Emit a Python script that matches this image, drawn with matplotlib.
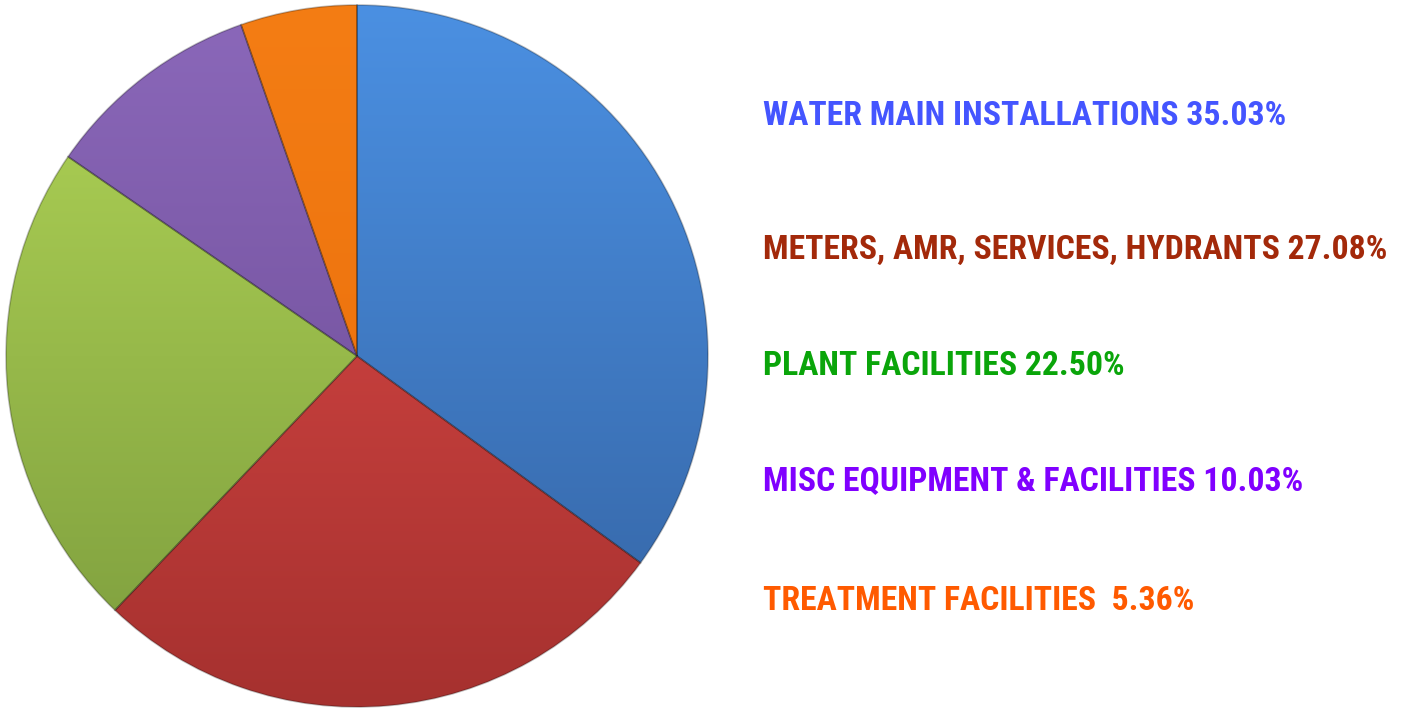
import matplotlib.pyplot as plt
import numpy as np
from matplotlib.colors import to_rgb
from matplotlib import font_manager

labels = ["WATER MAIN INSTALLATIONS", "METERS, AMR, SERVICES, HYDRANTS",
          "PLANT FACILITIES", "MISC EQUIPMENT & FACILITIES", "TREATMENT FACILITIES "]
shares = [35.03, 27.08, 22.50, 10.03, 5.36]

top_cols = ["#4b90e2", "#e24c49", "#b2d657", "#8b68ba", "#f47d14"]
bot_cols = ["#3463a2", "#a6312f", "#7c9c3d", "#684890", "#e86c0a"]
text_cols = ["#4455ff", "#a3290a", "#0aa50a", "#8000ff", "#ff5a00"]

W, H = 1417, 708
fig = plt.figure(figsize=(W / 100, H / 100), dpi=100)
ax = fig.add_axes([0, 0, 1, 1])

cx, cy, r = 357, 352, 351
wedges, _ = ax.pie(shares, startangle=90, counterclock=False, center=(cx, cy),
                   radius=r, frame=True,
                   wedgeprops=dict(linewidth=1.2, edgecolor=(0, 0, 0, 0.25)))
ax.set_xlim(0, W)
ax.set_ylim(0, H)
ax.set_aspect("equal")
ax.axis("off")

# vertical gradient inside each wedge
grad = np.linspace(1, 0, 256)[:, None, None]
for w, c1, c2 in zip(wedges, top_cols, bot_cols):
    img = grad * np.array(to_rgb(c1)) + (1 - grad) * np.array(to_rgb(c2))
    img = np.repeat(img, 2, axis=1)
    im = ax.imshow(img, extent=(cx - r, cx + r, cy - r, cy + r), origin="upper",
                   aspect="auto", zorder=1.5)
    im.set_clip_path(w)
    w.set_facecolor("none")
    w.set_zorder(2)

# condensed bold family for the labels
texts = [f"{lab} {val:.2f}%" for lab, val in zip(labels, shares)]
installed = {f.name for f in font_manager.fontManager.ttflist}
fam = next((f for f in ["Roboto Condensed", "Asap Condensed", "Barlow Semi Condensed"]
            if f in installed), "DejaVu Sans")

ys = [125, 259, 375, 490, 610]
for s, col, y in zip(texts, text_cols, ys):
    ax.text(763, H - y, s, color=col, fontsize=24.3,
            fontweight="bold", family=[fam, "DejaVu Sans"],
            va="baseline", ha="left", zorder=3)

fig.savefig("out.png", dpi=100)
